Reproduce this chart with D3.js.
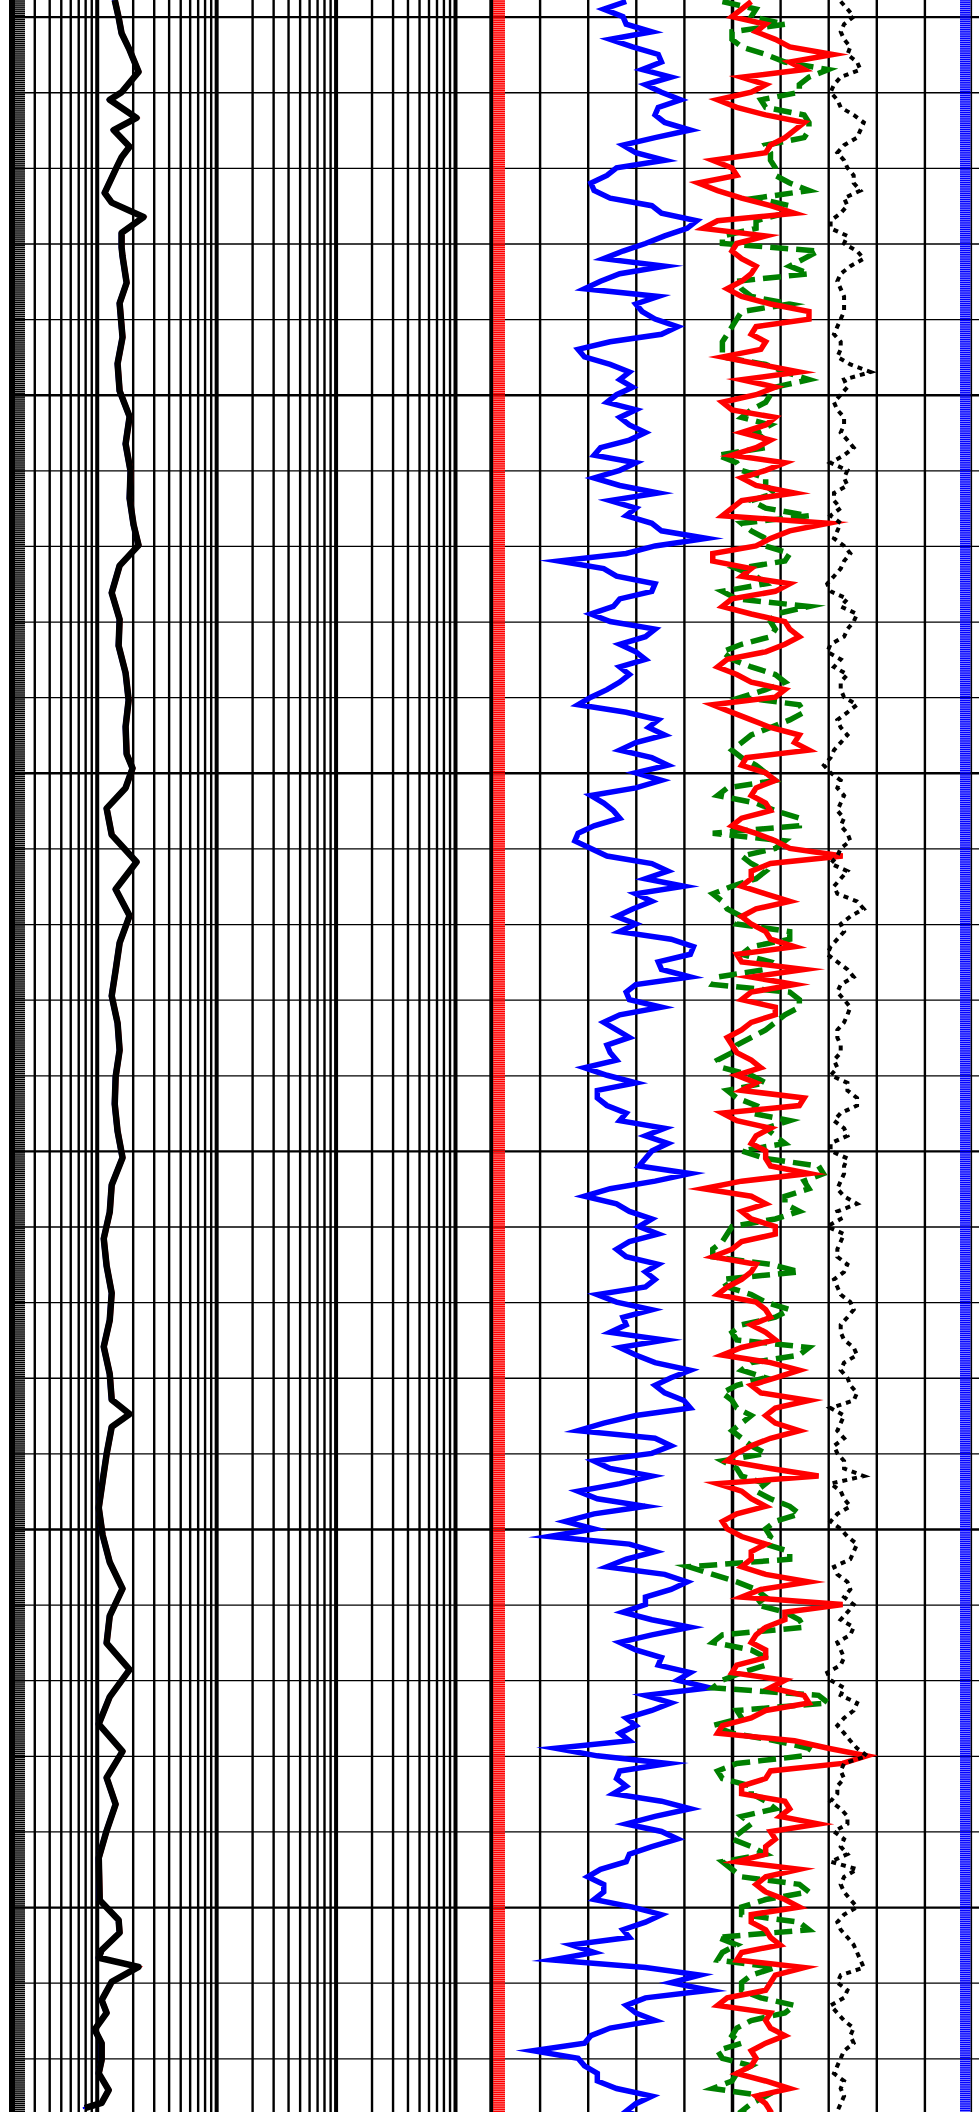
<!DOCTYPE html>
<html><head><meta charset="utf-8">
<script src="https://cdn.jsdelivr.net/npm/d3@7"></script>
<style>html,body{margin:0;padding:0;background:#fff;overflow:hidden}svg{display:block}</style>
</head><body><div id="chart"></div>
<script>
// ---------- depth axis ----------
const depthTop = 997.8, depthBottom = 1277.1;
const gridDepths = d3.range(1000, 1271, 10);      // thin every 10, thick every 50
const majorEvery = 50;

// ---------- track 1 : resistivity (log, 0.2 - 2000) ----------
const resScale = [0.2, 2000];
const resDepth = [997.8,1000.1,1002.2,1004.4,1007.3,1010.0,1011.0,1013.4,1015.0,1017.2,1018.6,1019.9,1023.3,1024.6,1026.5,1028.6,1030.5,1031.7,1035.2,1037.9,1042.4,1045.9,1049.5,1052.9,1056.5,1060.1,1063.7,1067.2,1069.9,1072.6,1076.2,1079.7,1083.2,1086.8,1090.4,1093.9,1097.5,1099.4,1102.0,1104.7,1108.2,1111.8,1115.4,1118.9,1122.5,1126.1,1129.5,1133.1,1136.7,1140.2,1143.8,1147.4,1150.9,1154.5,1158.1,1161.6,1165.2,1168.8,1172.4,1175.9,1179.5,1182.9,1184.8,1186.5,1190.1,1193.7,1197.2,1200.8,1204.4,1207.9,1211.5,1215.1,1218.6,1222.2,1225.8,1229.4,1232.9,1236.4,1239.9,1243.5,1249.1,1251.7,1253.4,1255.7,1256.7,1257.9,1259.9,1262.3,1264.0,1266.2,1268.0,1270.2,1272.0,1274.2,1275.9,1276.6];
const resDeep = [2.83,3.05,3.23,3.77,4.48,3.23,2.57,4.31,2.77,3.77,3.23,2.94,2.33,2.67,4.93,3.23,3.23,3.29,3.56,3.11,3.29,2.99,3.11,3.77,3.49,3.84,3.77,4.07,4.48,3.11,2.67,3.11,3.05,3.49,3.70,3.49,3.56,3.99,3.49,2.42,2.67,4.31,2.88,3.77,3.11,2.88,2.67,2.99,3.11,2.88,2.83,2.99,3.29,2.67,2.57,2.29,2.42,2.67,2.57,2.29,2.57,2.67,3.77,2.67,2.42,2.24,2.08,2.24,2.57,3.29,2.57,2.42,3.77,2.57,2.08,3.29,2.42,2.88,2.42,2.08,2.12,3.05,3.11,2.20,2.08,4.48,2.67,2.20,2.42,1.92,2.20,2.20,2.08,2.52,2.20,1.59];

// ---------- track 2 (linear) : samples at even and odd depths ----------
const depthEven = d3.range(998, 1279, 2);
const depthOdd = d3.range(999, 1278, 2);
const grScale = [0, 150];
const grEven = [42,41,50,44,53,56,53,52,54,51,45,39,31,37,53,61,48,35,40,29,45,51,53,27,
  37,40,39,45,43,43,32,40,40,37,42,53,51,21,39,50,38,37,48,45,40,40,31,
  42,49,45,50,45,45,35,40,27,31,50,48,45,44,45,56,62,53,45,43,40,39,36,
  39,36,33,36,40,48,50,46,51,29,43,46,43,42,48,48,39,41,37,40,51,56,54,
  62,35,51,50,37,40,33,32,32,43,42,54,56,48,50,50,45,52,58,48,50,45,43,33,
  40,42,53,51,53,50,42,30,35,44,48,43,32,48,56,48,45,37,29,27,33,39,45,48];
const grOdd = [35,42,37,52,47,48,59,51,62,41,54,36,32,50,64,54,41,54,34,52,47,58,37,
  29,43,44,36,40,48,34,45,32,52,45,50,67,42,35,51,40,31,51,40,48,43,36,
  27,52,54,40,55,53,31,38,32,26,36,55,60,50,39,40,63,52,62,42,53,35,43,37,
  29,45,33,42,54,55,48,62,37,39,50,52,39,52,51,33,50,42,54,45,62,51,60,
  45,27,56,32,50,27,48,23,18,51,36,61,48,41,62,40,53,62,68,56,42,40,20,
  55,39,38,62,42,58,43,34,35,32,53,41,25,19,65,68,42,51,31,13,29,33,50,42];
const t2Scale = [0, 100];
const redEven = [54,50,55,62,62,52,54,51,65,61,57,50,43,52,63,44,51,52,54,49,58,66,54,56,
  56,52,55,50,57,58,50,57,55,52,48,62,55,46,52,59,48,61,64,57,47,54,59,
  50,58,63,53,57,55,57,52,55,62,58,54,57,55,54,58,51,65,63,52,59,52,50,
  54,51,52,64,51,55,57,58,52,54,52,59,52,46,54,49,55,58,57,52,58,59,56,
  59,59,58,51,58,47,54,51,49,57,54,57,56,73,61,55,57,51,61,65,57,48,63,78,
  58,52,61,60,58,57,51,57,57,64,54,58,52,65,58,49,58,58,57,55,51,62,57,57];
const redOdd = [52,57,59,71,65,57,47,57,63,58,46,51,47,58,47,57,50,55,52,52,66,55,57,
  48,64,59,48,59,52,55,61,52,63,50,70,58,46,54,62,50,54,62,61,49,51,61,
  46,54,64,66,52,59,54,58,50,59,73,54,52,62,52,57,63,52,54,54,59,54,49,51,
  56,55,65,48,58,54,57,66,44,57,54,59,50,55,52,47,57,54,59,48,64,54,66,
  57,64,54,49,68,52,57,48,52,54,52,66,52,61,57,54,57,50,58,66,54,47,70,
  73,57,52,62,68,59,57,64,55,61,54,57,60,51,59,57,47,57,61,54,54,57,55,58];
const greenEven = [48,54,50,52,61,66,64,57,66,65,58,59,62,55,61,55,48,65,66,52,62,51,49,48,
  57,66,58,54,58,57,47,52,57,54,66,54,57,61,55,48,66,58,58,48,54,61,52,
  65,58,52,52,57,49,55,64,46,59,54,55,46,49,51,62,52,57,46,64,61,57,51,
  47,54,49,55,62,59,52,68,65,61,64,50,48,46,64,49,57,59,50,66,54,57,48,
  51,52,52,57,51,57,58,64,57,57,62,46,55,55,64,48,54,57,48,68,51,46,59,65,
  47,54,57,52,52,54,48,52,66,52,64,47,48,59,52,56,61,51,52,48,51,46,54,54];
const greenOdd = [55,61,50,57,70,64,56,65,66,57,58,59,66,62,55,48,68,62,51,54,52,50,48,
  48,61,59,57,52,55,57,51,57,59,57,52,57,62,51,57,51,59,59,52,50,59,57,
  64,62,54,50,55,59,47,59,64,61,52,57,50,48,52,62,54,58,47,62,64,59,54,50,
  48,57,51,54,57,61,57,69,66,61,59,49,46,58,48,54,62,52,51,64,52,51,50,
  54,50,54,48,52,55,62,59,58,62,41,51,57,61,65,46,57,52,46,70,52,50,66,
  51,48,54,59,54,50,57,50,64,57,52,66,51,47,54,52,63,54,50,47,54,50,57,52];
const blackEven = [72.6,75.3,72.6,74.6,76,72.6,70.5,72.6,77.4,76,71.9,74,75.3,73.3,72.6,70.5,73.3,77.4,72.6,72.6,73.3,72.6,71.2,72.6,
  74.6,73.3,72.6,71.9,73.3,74.0,73.3,74.0,74.0,71.2,70.5,71.9,73.3,73.3,71.2,70.5,72.6,75.3,73.3,69.8,71.2,72.6,73.3,
  74.0,72.6,72.6,70.5,70.5,71.9,72.6,73.3,74.0,72.6,70.5,72.6,71.9,77.4,72.6,71.9,69.8,74.0,72.6,73.3,74.0,71.9,72.6,
  71.2,70.5,74.0,76.0,71.2,74.0,70.5,73.3,72.6,73.3,71.9,69.8,72.6,71.9,73.3,71.9,74.6,74.0,72.6,75.3,73.3,74.0,76.0,
  70.5,72.6,73.3,71.9,73.3,70.5,73.3,71.9,72.6,76.0,74.6,71.9,74.6,75.3,72.6,74.6,72.6,72.6,70.5,72.6,75.3,71.9,74.6,78.1,
  72.6,71.9,70.5,74.0,71.2,72.6,70.5,73.3,73.3,76.0,71.9,74.0,76.0,77.4,71.9,73.3,71.9,75.3,75.3,72.6,71.2,72.6,72.6,72.6];
const blackOdd = [74.0,73.3,73.3,74.0,76.7,71.2,71.9,75.3,76.7,73.3,73.3,75.3,76.7,74.0,70.5,74.0,76.0,74.6,71.9,73.3,73.3,71.9,72.6,
  71.9,78.8,74.0,71.2,73.3,72.6,75.3,70.5,73.3,71.2,72.6,72.6,71.2,74.6,72.6,69.8,74.0,76.0,74.0,70.5,72.6,74.0,72.6,
  76.0,71.9,74.0,71.2,69.1,72.6,73.3,71.9,72.6,74.6,71.9,74.0,71.2,76.0,74.6,73.3,70.5,71.9,75.3,71.9,74.6,73.3,71.9,72.6,
  71.9,74.0,76.0,72.6,73.3,70.5,74.0,73.3,71.9,76.0,72.6,73.3,71.9,74.0,71.2,72.6,75.3,72.6,73.3,76.0,72.6,74.6,75.3,
  73.3,71.9,71.2,73.3,77.4,72.6,74.6,70.5,74.0,75.3,71.2,74.0,73.3,74.0,75.3,71.9,73.3,69.8,73.3,76.0,73.3,73.3,76.0,
  73.3,73.3,71.9,72.6,74.0,73.3,74.0,76.0,72.6,74.6,73.3,72.6,75.3,76.7,72.6,74.0,70.5,73.3,74.6,73.3,71.9,73.3,73.3,71.9];

// sample-marker rugs (one tick per recorded sample)
const rugStep1 = 0.26, rugStep2 = 0.25;

// ---------- drawing ----------
const W = 979, H = 2112;
const svg = d3.select("#chart").append("svg").attr("width", W).attr("height", H);
const y = d3.scaleLinear().domain([depthTop, depthBottom]).range([0, H]);
const xRes = d3.scaleLog().domain(resScale).range([-22.7, 455]);
const xGR = d3.scaleLinear().domain(grScale).range([491.5, 972.5]);
const xT2 = d3.scaleLinear().domain(t2Scale).range([491.5, 972.5]);

const defs = svg.append("defs");
defs.append("clipPath").attr("id","c1").append("rect").attr("x",9).attr("y",0).attr("width",455-9).attr("height",H);
defs.append("clipPath").attr("id","c2").append("rect").attr("x",492).attr("y",0).attr("width",480).attr("height",H);

// horizontal depth grid
const hAxis = d3.axisRight(y).tickValues(gridDepths).tickSize(W - 9).tickFormat("");
const hg = svg.append("g").attr("transform","translate(9,0)").call(hAxis);
hg.select(".domain").remove();
hg.selectAll(".tick line").attr("stroke","#000")
  .attr("stroke-width", d => d % majorEvery === 0 ? 2.4 : 1.3);

// track 1 log grid
const logTicks = [];
[0.2,2,20,200].forEach(dec => { for (let k=1;k<=9;k++) logTicks.push(+(dec*k).toPrecision(3)); });
logTicks.push(2000);
const ax1 = d3.axisTop(xRes).tickValues(logTicks.filter(v => xRes(v) > 9)).tickSize(-H).tickFormat("");
const g1 = svg.append("g").call(ax1);
g1.select(".domain").remove();
g1.selectAll(".tick line").attr("stroke","#000")
  .attr("stroke-width", d => Math.abs(Math.log10(d/0.2) - Math.round(Math.log10(d/0.2))) < 1e-6 ? 4 : 2.4);

// track 2 linear grid
const ax2 = d3.axisTop(xT2).tickValues(d3.range(10, 100, 10)).tickSize(-H).tickFormat("");
const g2 = svg.append("g").call(ax2);
g2.select(".domain").remove();
g2.selectAll(".tick line").attr("stroke","#000").attr("stroke-width", d => d === 50 ? 3.5 : 2.4);

// track borders
svg.append("line").attr("x1",12).attr("x2",12).attr("y1",0).attr("y2",H).attr("stroke","#000").attr("stroke-width",6);
svg.append("line").attr("x1",491.3).attr("x2",491.3).attr("y1",0).attr("y2",H).attr("stroke","#000").attr("stroke-width",4);
svg.append("line").attr("x1",971.3).attr("x2",971.3).attr("y1",0).attr("y2",H).attr("stroke","#000").attr("stroke-width",1.6);

// rugs
const rug1 = d3.range(depthTop, depthBottom, rugStep1);
svg.append("g").selectAll("line").data(rug1).join("line")
  .attr("x1",15).attr("x2",25).attr("y1",d=>y(d)).attr("y2",d=>y(d))
  .attr("stroke","#000").attr("stroke-width",1.5);
const rug2 = d3.range(depthTop, depthBottom, rugStep2);
svg.append("g").selectAll("line").data(rug2).join("line")
  .attr("x1",493).attr("x2",505).attr("y1",d=>y(d)).attr("y2",d=>y(d))
  .attr("stroke","#ff0000").attr("stroke-width",1.5);
svg.append("g").selectAll("line").data(rug2).join("line")
  .attr("x1",960).attr("x2",970.5).attr("y1",d=>y(d)+0.9).attr("y2",d=>y(d)+0.9)
  .attr("stroke","#0000ff").attr("stroke-width",1.5);

// track 1 curves
const t1 = svg.append("g").attr("clip-path","url(#c1)");
const resLine = d3.line().x(d=>xRes(d[1])).y(d=>y(d[0]));
const resPts = resDepth.map((d,i)=>[d,resDeep[i]]);
t1.append("path").datum(resPts).attr("d",resLine).attr("fill","none")
  .attr("stroke","#0000ff").attr("stroke-width",2).attr("transform","translate(-2,0)");
t1.append("path").datum(resPts).attr("d",resLine).attr("fill","none")
  .attr("stroke","#ff0000").attr("stroke-width",2).attr("transform","translate(2,0)");
t1.append("path").datum(resPts).attr("d",resLine).attr("fill","none")
  .attr("stroke","#000").attr("stroke-width",6.5).attr("stroke-linejoin","round");

// track 2 curves
const series = (ev, od) => depthEven.map((d,i)=>[d, ev[i]])
  .concat(depthOdd.map((d,i)=>[d, od[i]])).sort((a,b)=>a[0]-b[0]);
const t2 = svg.append("g").attr("clip-path","url(#c2)");
const lineWith = xs => d3.line().x(d=>xs(d[1])).y(d=>y(d[0]));
t2.append("path").datum(series(grEven, grOdd)).attr("d", lineWith(xGR)).attr("fill","none")
  .attr("stroke","#0000ff").attr("stroke-width",5.5).attr("stroke-linejoin","miter").attr("stroke-miterlimit",8);
t2.append("path").datum(series(greenEven, greenOdd)).attr("d", lineWith(xT2)).attr("fill","none")
  .attr("stroke","#008000").attr("stroke-width",5.5).attr("stroke-dasharray","18,8")
  .attr("stroke-linejoin","miter").attr("stroke-miterlimit",8);
t2.append("path").datum(series(redEven, redOdd)).attr("d", lineWith(xT2)).attr("fill","none")
  .attr("stroke","#ff0000").attr("stroke-width",5.5).attr("stroke-linejoin","miter").attr("stroke-miterlimit",8);
t2.append("path").datum(series(blackEven, blackOdd)).attr("d", lineWith(xT2)).attr("fill","none")
  .attr("stroke","#000").attr("stroke-width",4).attr("stroke-dasharray","5,5");
</script>
</body></html>
